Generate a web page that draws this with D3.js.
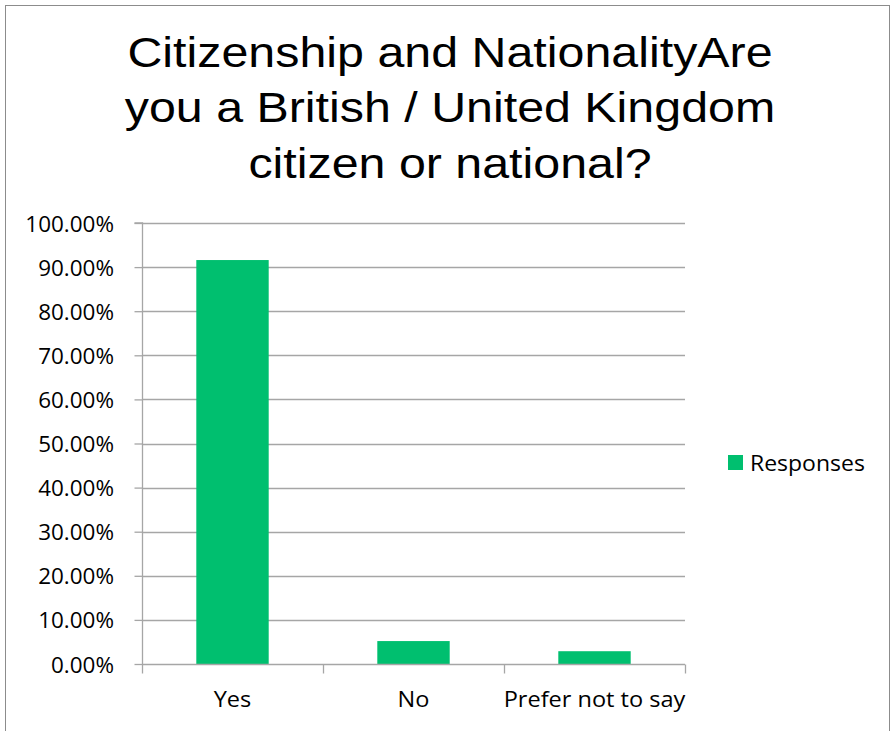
<!DOCTYPE html>
<html>
<head>
<meta charset="utf-8">
<script src="https://cdn.jsdelivr.net/npm/d3@7"></script>
<style>
  html, body { margin: 0; padding: 0; background: #fff; }
  svg { display: block; }
</style>
</head>
<body>
<svg id="chart" width="891" height="731"></svg>
<script>
const titleLines = ["Citizenship and NationalityAre", "you a British / United Kingdom", "citizen or national?"];
const categories = ["Yes", "No", "Prefer not to say"];
const seriesName = "Responses";
const values = [91.6, 5.2, 2.9];
const yTicks = [0, 10, 20, 30, 40, 50, 60, 70, 80, 90, 100];

const W = 891, H = 731;
const svg = d3.select("#chart");
const barColor = "#00bf6f";
const gridColor = "#a6a6a6";
const labelFont = "'Open Sans', sans-serif";
const sx = 1.07; // horizontal stretch of labels
const tsx = 1.125; // horizontal stretch of title

function stretchedText(sel, x, y, txt, s) {
  return sel.append("text")
    .attr("transform", `translate(${x},${y}) scale(${s},1)`)
    .text(txt);
}

// frame
svg.append("rect").attr("x", 5.5).attr("y", 5.5).attr("width", 884).attr("height", 740)
  .attr("fill", "#fff").attr("stroke", "#8c8c8c").attr("stroke-width", 1);

// title
const tg = svg.append("g").attr("font-family", "'Liberation Sans', Arial, sans-serif")
  .attr("font-size", 43).attr("text-anchor", "middle").attr("fill", "#000");
const titleBaselines = [67, 122, 178];
titleLines.forEach((t, i) => stretchedText(tg, 450, titleBaselines[i], t, tsx));

const x = d3.scaleBand().domain(categories).range([142, 685]).padding(0);
const y = d3.scaleLinear().domain([0, 100]).range([664, 223]);

// gridlines
svg.append("g").selectAll("line").data(yTicks.filter(d => d > 0)).join("line")
  .attr("x1", 142).attr("x2", 685)
  .attr("y1", d => Math.round(y(d)) + 0.5).attr("y2", d => Math.round(y(d)) + 0.5)
  .attr("stroke", gridColor).attr("stroke-width", 1.3);

// bars
svg.append("g").selectAll("rect").data(values).join("rect")
  .attr("x", (d, i) => x(categories[i]) + x.bandwidth() * 0.3)
  .attr("width", x.bandwidth() * 0.4)
  .attr("y", d => y(d))
  .attr("height", d => y(0) - y(d))
  .attr("fill", barColor);

// y axis
const yAxis = d3.axisLeft(y).tickValues(yTicks).tickSize(8).tickFormat(d => (d).toFixed(2) + "%");
const yg = svg.append("g").attr("transform", "translate(142.5,0)").call(yAxis);
yg.select(".domain").attr("stroke", gridColor).attr("stroke-width", 1.3).attr("d", `M-8,${y(100)}H0V${y(0)}`);
yg.selectAll(".tick line").attr("stroke", gridColor).attr("stroke-width", 1.3);
yg.selectAll(".tick text").remove();
yg.selectAll(".tick").each(function(d) {
  d3.select(this).append("text")
    .attr("transform", `translate(-28.5,8) scale(${sx},1)`)
    .attr("text-anchor", "end")
    .attr("font-family", labelFont).attr("font-size", 21).attr("fill", "#000")
    .text((d).toFixed(2) + "%");
});

// x axis
const xg = svg.append("g").attr("transform", `translate(0,${Math.round(y(0)) + 0.5})`);
xg.append("line").attr("x1", 142).attr("x2", 685).attr("stroke", gridColor).attr("stroke-width", 1.3);
const xTickPos = categories.map(c => x(c)).concat([x(categories[categories.length - 1]) + x.bandwidth()]);
xg.selectAll("line.t").data(xTickPos).join("line").attr("class", "t")
  .attr("x1", d => Math.round(d) + 0.5).attr("x2", d => Math.round(d) + 0.5)
  .attr("y1", 0).attr("y2", 9).attr("stroke", gridColor).attr("stroke-width", 1.3);
const xl = xg.append("g").attr("font-family", labelFont).attr("font-size", 22).attr("text-anchor", "middle").attr("fill", "#000");
categories.forEach(c => stretchedText(xl, x(c) + x.bandwidth() / 2, 42, c, sx));

// legend
const lg = svg.append("g");
lg.append("rect").attr("x", 728).attr("y", 455).attr("width", 15).attr("height", 15).attr("fill", barColor);
stretchedText(lg, 750, 471, seriesName, sx).attr("font-family", labelFont).attr("font-size", 21.5).attr("fill", "#000");
</script>
</body>
</html>
